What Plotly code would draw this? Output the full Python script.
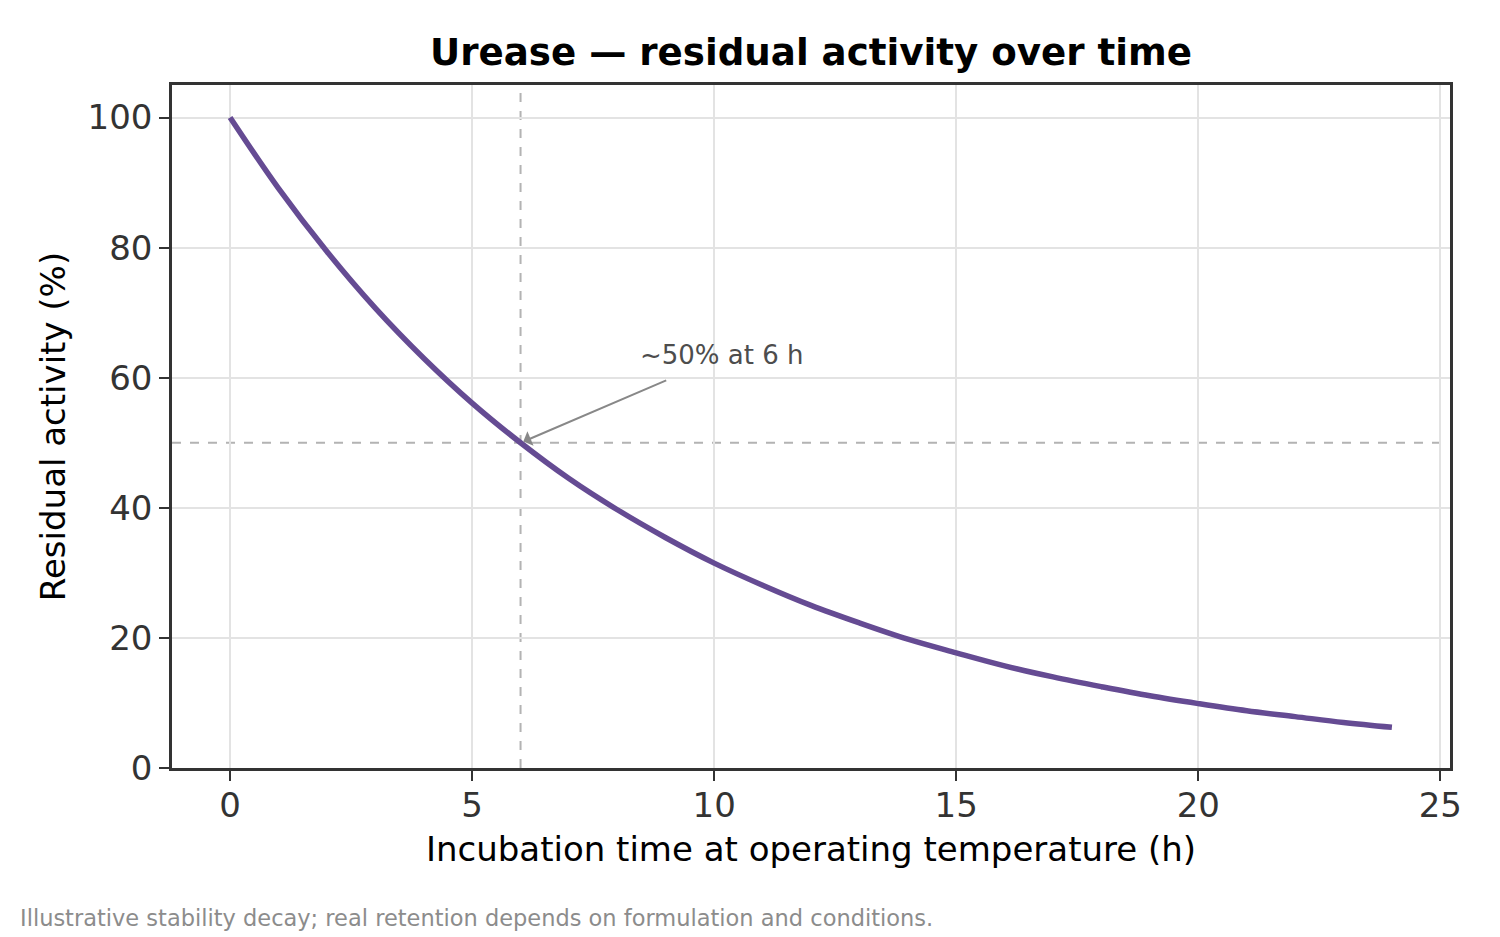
import plotly.graph_objects as go

hours = list(range(0, 25))
activity = [100, 89.1, 79.4, 70.7, 63.0, 56.1, 50.0, 44.5, 39.7, 35.4, 31.5, 28.1,
            25.0, 22.3, 19.8, 17.7, 15.7, 14.0, 12.5, 11.1, 9.9, 8.8, 7.9, 7.0, 6.25]
x_ticks = [0, 5, 10, 15, 20, 25]
y_ticks = [0, 20, 40, 60, 80, 100]
half_time = 6
half_level = 50

FONT = "DejaVu Sans"
AXC = "#333333"

# plot area in pixels: x 172..1450, y 85..768
PL, PR, PT, PB = 172, 1450, 85, 768

fig = go.Figure()
fig.add_trace(go.Scatter(x=hours, y=activity, mode="lines",
                         line=dict(color="#654b93", width=5.5, shape="spline"),
                         showlegend=False, hoverinfo="skip"))

fig.add_shape(type="line", xref="x", yref="paper", x0=half_time, x1=half_time, y0=0, y1=1,
              line=dict(color="#b3b3b3", width=2, dash="dash"), layer="below")
fig.add_shape(type="line", xref="paper", yref="y", x0=0, x1=1, y0=half_level, y1=half_level,
              line=dict(color="#b3b3b3", width=2, dash="dash"), layer="below")

fig.add_annotation(x=half_time, y=half_level, xref="x", yref="y",
                   ax=9.04, ay=59.7, axref="x", ayref="y",
                   text="", showarrow=True, arrowhead=1, arrowsize=1.3, arrowwidth=2,
                   arrowcolor="#888888", standoff=3)
fig.add_annotation(x=8.42, y=63.5, xref="x", yref="y", text="~50% at 6 h",
                   showarrow=False, xanchor="left", yanchor="middle",
                   font=dict(family=FONT, size=26, color="#4d4d4d"))

fig.add_annotation(x=(18 - PL) / (PR - PL), y=(PB - 918) / (PB - PT), xref="paper", yref="paper",
                   text="Illustrative stability decay; real retention depends on formulation and conditions.",
                   showarrow=False, xanchor="left", yanchor="middle",
                   font=dict(family=FONT, size=22.5, color="#8c8c8c"))

fig.update_layout(
    width=1500, height=937,
    margin=dict(l=PL, r=1500 - PR, t=PT, b=937 - PB),
    paper_bgcolor="white", plot_bgcolor="white",
    title=dict(text="<b>Urease — residual activity over time</b>", x=(PL + PR) / 2 / 1500,
               xanchor="center", y=1 - 52 / 937, yanchor="middle",
               font=dict(family=FONT, size=37.2, color="black")),
    font=dict(family=FONT),
)
fig.update_xaxes(range=[-1.2, 25.2], tickvals=x_ticks, ticks="outside", ticklen=10, tickwidth=2,
                 tickcolor=AXC, showline=True, linecolor=AXC, linewidth=2.5, mirror=True,
                 showgrid=True, gridcolor="#e3e3e3", gridwidth=1.5, zeroline=False,
                 ticklabelstandoff=-5,
                 tickfont=dict(family=FONT, size=34, color="#333333"),
                 title=dict(text="Incubation time at operating temperature (h)",
                            font=dict(family=FONT, size=34, color="black"), standoff=14))
fig.update_yaxes(range=[0, 105], tickvals=y_ticks, ticks="outside", ticklen=10, tickwidth=2,
                 tickcolor=AXC, showline=True, linecolor=AXC, linewidth=2.5, mirror=True,
                 showgrid=True, gridcolor="#e3e3e3", gridwidth=1.5, zeroline=False,
                 tickfont=dict(family=FONT, size=34, color="#333333"),
                 title=dict(text="Residual activity (%)",
                            font=dict(family=FONT, size=34, color="black"), standoff=12))

fig.write_html("out.html")
